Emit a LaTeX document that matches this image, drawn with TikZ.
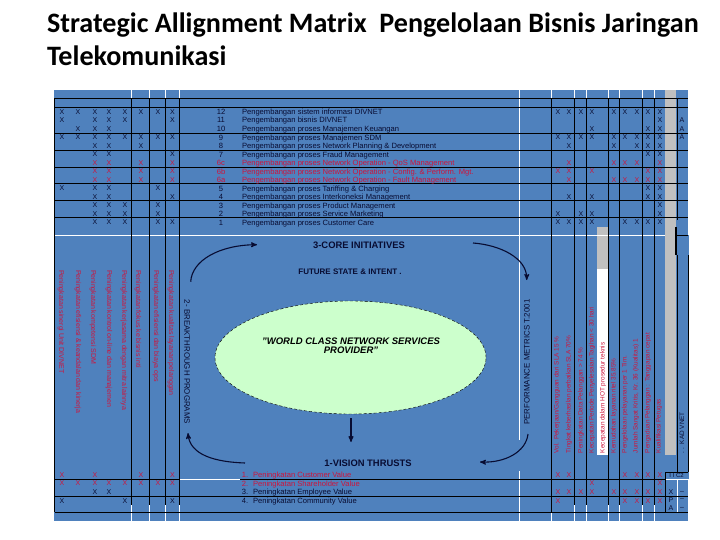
\documentclass[tikz,border=0pt]{standalone}
\usepackage{fontspec}
\setmainfont{Liberation Sans}
\newfontfamily\titlefont{Carlito}
\usetikzlibrary{arrows,positioning,shapes.geometric}
\definecolor{panelblue}{RGB}{79,129,189}
\definecolor{markred}{RGB}{205,20,60}
\definecolor{inkblue}{RGB}{8,12,50}
\definecolor{bargray}{RGB}{192,192,192}
\definecolor{visiongreen}{RGB}{204,255,204}

\begin{document}
\begin{tikzpicture}[x=1pt,y=-1pt,>=stealth',
		base node/.style={inner sep=0pt,outer sep=0pt},
		title node/.style={base node,anchor=base west,font=\titlefont\bfseries\fontsize{28.1}{28.1}\selectfont},
		mark node/.style={base node,font=\fontsize{7}{7}\selectfont},
		row node/.style={base node,anchor=west,text height=5.6pt,text depth=1.6pt,yshift=-0.7pt,font=\fontsize{7.6}{7.6}\selectfont},
		num node/.style={base node,text height=5.6pt,text depth=1.6pt,yshift=-0.7pt,font=\fontsize{7.6}{7.6}\selectfont},
		head node/.style={base node,font=\bfseries\fontsize{9.4}{9.4}\selectfont,text=inkblue},
		side node/.style={base node,font=\fontsize{7.9}{7.9}\selectfont,text=inkblue},
		down node/.style={base node,anchor=west,rotate=-90,text=markred,font=\fontsize{7}{7}\selectfont},
		up node/.style={base node,anchor=west,rotate=90,text=markred,font=\fontsize{6.4}{6.4}\selectfont},
		grid line/.style={black,line width=0.8pt},
		light line/.style={white,line width=0.8pt},
		flow/.style={->,inkblue,line width=1.1pt}]
		\useasboundingbox (0,0) rectangle (720,540);

		\node[title node] (title1) at (47,33) {Strategic Allignment Matrix\ \ Pengelolaan Bisnis Jaringan};
		\node[title node] (title2) at (47,66) {Telekomunikasi};

		\fill[panelblue] (54,90) rectangle (689,521);
		\fill[bargray] (665,90) rectangle (676,455);
		\fill[bargray] (597,227) rectangle (608,269);
		\fill[white] (597,269) rectangle (608,455);

		\foreach \xx in {131,149,165,179,551,574,586,608,619,642,654}
		\draw[light line] (\xx,90) -- (\xx,98) (\xx,505) -- (\xx,521);
		\draw[light line] (519,90) -- (519,440) (519,471) -- (519,521);
		\draw[light line] (54,235) -- (665,235);
		\draw[light line] (179,479) -- (240,479);
		\draw[light line] (665,479) -- (688,479) (688,479) -- (688,521) (677,479) -- (677,512);
		\draw[light line] (688,90) -- (688,235);

		\foreach \yy in {98.3,107,133,150,167,183,200,217}
		\draw[grid line] (54.7,\yy) -- (688,\yy);
		\draw[grid line] (54.7,98.3) -- (54.7,512);
		\foreach \xx in {131,149,165,179,574,586,608,619,642,654}
		\draw[grid line] (\xx,98.3) -- (\xx,505);
		\draw[grid line] (551,98.3) -- (551,512);
		\draw[grid line] (54.7,479) -- (179,479) (240,479) -- (665,479);
		\draw[grid line] (54.7,496) -- (688,496) (54.7,512) -- (688,512);
		\draw[grid line] (677,98.3) -- (677,220);
		\draw[black,line width=1.2pt] (676,227) -- (676,255);
		\draw[grid line] (676,235) -- (688,235);
		\draw[grid line] (677,255) -- (677,472) (688,255) -- (688,472);
		\draw[grid line] (665,472) -- (688,472) (665,472) -- (665,512);

		\foreach \cname/\cx in {L1/62,L2/78,L3/95,L4/109,L5/125,L6/141,L7/158,L8/172.5,R1/558,R2/569,R3/581,R4/592,R5/614,R6/625,R7/637,R8/648,R9/660,A/682}
		\coordinate (\cname) at (\cx,0);

		\foreach \ry/\rnum/\rtext/\rcol/\rmarks in {
			111.7/12/Pengembangan sistem informasi DIVNET/inkblue/{L1,L2,L3,L4,L5,L6,L7,L8,R1,R2,R3,R4,R5,R6,R7,R8,R9},
			120/11/Pengembangan bisnis DIVNET/inkblue/{L1,L3,L4,L5,L8,R9},
			129/10/Pengembangan proses Manajemen Keuangan/inkblue/{L2,L3,L4,R4,R8,R9},
			137.5/9/Pengembangan proses Manajemen SDM/inkblue/{L1,L2,L3,L4,L5,L6,L7,L8,R1,R2,R3,R4,R5,R6,R7,R8,R9},
			146/8/Pengembangan proses Network Planning \& Development/inkblue/{L3,L4,L6,R2,R5,R7,R8,R9},
			154.5/7/Pengembangan proses Fraud Management/inkblue/{L3,L4,L8,R8,R9},
			163/6c/Pengembangan proses Network Operation - QoS Management/markred/{L3,L4,L6,L8,R2,R5,R6,R7,R9},
			171.5/6b/Pengembangan proses Network Operation - Config. \& Perform. Mgt./markred/{L3,L4,L6,L8,R1,R2,R4,R8,R9},
			180/6a/Pengembangan proses Network Operation - Fault Management/markred/{L3,L4,L6,L8,R2,R5,R6,R7,R8,R9},
			188.5/5/Pengembangan proses Tariffing \& Charging/inkblue/{L1,L3,L4,L7,R8,R9},
			197/4/Pengembangan proses Interkoneksi Management/inkblue/{L3,L4,L8,R2,R4,R8,R9},
			205.5/3/Pengembangan proses Product Management/inkblue/{L3,L4,L5,L7,R9},
			214/2/Pengembangan proses Service Marketing/inkblue/{L3,L4,L5,L7,R1,R3,R4,R9},
			222.5/1/Pengembangan proses Customer Care/inkblue/{L3,L4,L5,L7,L8,R1,R2,R3,R4,R6,R7,R8,R9}} {
			\node[num node,text=\rcol] (num\rnum) at (221,\ry) {\rnum};
			\node[row node,text=\rcol] (row\rnum) at (242,\ry) {\rtext};
			\foreach \c in \rmarks
			\node[mark node,text=\rcol] (x\rnum\c) at (\c |- 0,\ry) {X};
		}
		\node[mark node,text=inkblue] (a11) at (A |- 0,120) {A};
		\node[mark node,text=inkblue] (a10) at (A |- 0,129) {A};
		\node[mark node,text=inkblue] (a9) at (A |- 0,137.5) {A};

		\foreach \ry/\rnum/\rtext/\rcol/\rmarks in {
			475/1/Peningkatan Customer Value/markred/{L1,L3,L6,L8,R1,R2,R6,R7,R8,R9},
			483.5/2/Peningkatan Shareholder Value/markred/{L1,L2,L3,L4,L5,L6,L7,L8,R4,R9},
			492/3/Peningkatan Employee Value/inkblue/{L3,L4},
			500.7/4/Peningkatan Community Value/inkblue/{L1,L5,L8}} {
			\node[num node,text=\rcol] (vnum\rnum) at (245,\ry) {\rnum.};
			\node[row node,text=\rcol] (vrow\rnum) at (253,\ry) {\rtext};
			\foreach \c in \rmarks
			\node[mark node,text=\rcol] (v\rnum\c) at (\c |- 0,\ry) {X};
		}
		\foreach \c in {R1,R2,R3,R4,R5,R6,R7,R8,R9}
		\node[mark node,text=markred] (w\c) at (\c |- 0,492) {X};
		\foreach \c in {R1,R6,R7,R8,R9}
		\node[mark node,text=markred] (u\c) at (\c |- 0,500.7) {X};

		\node[mark node,text=inkblue,font=\fontsize{6}{6}\selectfont] (box1) at (676.5,475.5) {I I C2};
		\node[mark node,text=inkblue] (box2) at (671,492) {X};
		\node[mark node,text=inkblue] (box3) at (682,492) {--};
		\node[mark node,text=inkblue] (box4) at (671,500) {P};
		\node[mark node,text=inkblue] (box5) at (682,499) {--};
		\node[mark node,text=inkblue] (box6) at (671,508) {A};
		\node[mark node,text=inkblue] (box7) at (682,508) {--};

		\foreach \cx/\ctext in {
			61/Peningkatan sinergi Unit DIVNET,
			78/Peningkatan efisiensi \& keandalan dan kinerja,
			93/Peningkatan kompetensi SDM,
			109/Peningkatan kontrol on-line dan manajemen,
			124/Peningkatan kerjasama dengan mitra lainnya,
			138/Peningkatan fokus ke bisnis inti,
			156/Peningkatan efisiensi dan biaya ops,
			171/Peningkatan kualitas layanan pelanggan}
		\node[down node] (d\cx) at (\cx,270) {\ctext};

		\foreach \cx/\ctext in {
			557/{Vol. Pekerjaan/Gangguan dari SLA 15 \%},
			569/Tingkat keberhasilan perbaikan SLA 70\%,
			581/Peningkatan Data Pelanggan > 74 \%,
			592/Kecepatan Periode Penyelesaian Tagihan < 30 hari,
			603/Kecepatan dalam HOT prosedur teknis,
			614/Kemudahan layanan ritel 35.85\%,
			625/Pengelolaan pelayanan per 1 Tim.,
			636/{Jumlah Sangat Kritis, Kr. 36 (Kualitas) 1},
			648/Pengaduan Pelanggan : Tanggapan cepat,
			659/Kualifikasi Petugas}
		\node[up node] (p\cx) at (\cx,453) {\ctext};
		\node[up node,text=inkblue] (kad) at (682,453) {.\ .\ \ KAD VNET};

		\node[draw=black,densely dashed,line width=0.4pt,fill=visiongreen,ellipse,minimum width=271pt,minimum height=113pt] (vision) at (350.5,357.5) {};
		\node[base node,align=center,font=\bfseries\itshape\fontsize{9.5}{9.5}\selectfont,text=black] (provider) at (351,345.5) {"WORLD CLASS NETWORK SERVICES\\PROVIDER"};
		\node[head node] (core) at (359,245) {3-CORE INITIATIVES};
		\node[head node,font=\bfseries\fontsize{8}{8}\selectfont] (future) at (350,271.5) {FUTURE STATE \& INTENT .};
		\node[head node] (thrusts) at (368,463) {1-VISION THRUSTS};
		\node[side node,rotate=-90] (programs) at (187,362) {2- BREAKTHROUGH PROGRAMS};
		\node[side node,rotate=90] (metrics) at (527,362) {PERFORMANCE METRICS T.2001};

		\coordinate (coreleft) at (257,244.7);
		\coordinate (coreright) at (473,243);
		\coordinate (progtop) at (190.7,281.7);
		\coordinate (metrictop) at (526.7,280);
		\coordinate (metricbot) at (528,434);
		\coordinate (visleft) at (245,463);
		\coordinate (visright) at (480,462);
		\coordinate (progbot) at (188,433);
		\coordinate (visiontop) at (351,442);
		\coordinate (visionbot) at (351,418);

		\draw[flow] (progtop) .. controls (192,260) and (220,245) .. (coreleft);
		\draw[flow] (coreright) .. controls (500,245) and (527,258) .. (metrictop);
		\draw[flow] (metricbot) .. controls (526,452) and (505,463) .. (visright);
		\draw[flow] (visleft) .. controls (215,462) and (190,455) .. (progbot);
		\draw[flow] (visionbot) -- (visiontop);
\end{tikzpicture}
\end{document}
